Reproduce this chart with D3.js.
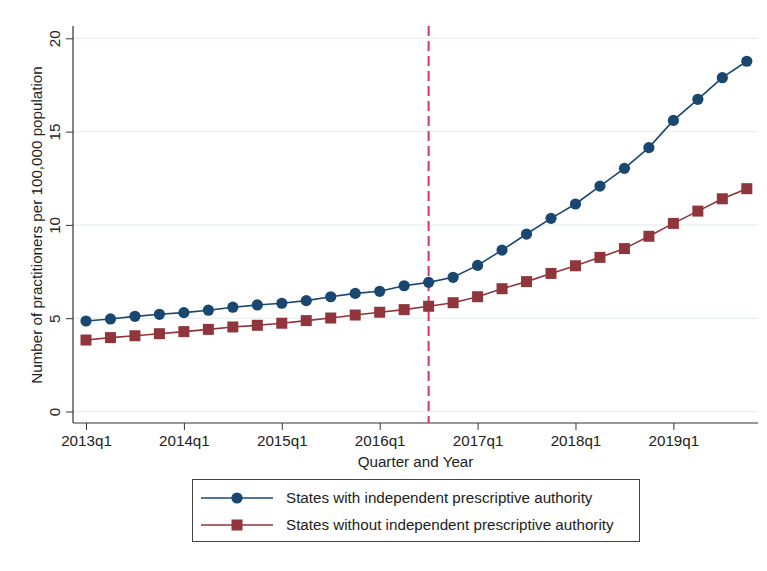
<!DOCTYPE html>
<html>
<head>
<meta charset="utf-8">
<script src="https://cdn.jsdelivr.net/npm/d3@7"></script>
<style>
  html, body { margin: 0; padding: 0; background: #fff; }
  svg { display: block; font-family: Arial, "Liberation Sans", sans-serif; }
</style>
</head>
<body>
<svg id="chart" width="767" height="571"></svg>
<script>
// Quarters 2013q1 .. 2019q4
const quarters = [
  "2013q1","2013q2","2013q3","2013q4",
  "2014q1","2014q2","2014q3","2014q4",
  "2015q1","2015q2","2015q3","2015q4",
  "2016q1","2016q2","2016q3","2016q4",
  "2017q1","2017q2","2017q3","2017q4",
  "2018q1","2018q2","2018q3","2018q4",
  "2019q1","2019q2","2019q3","2019q4"
];

// Practitioners per 100,000 population
const withAuthority = [
  4.85, 4.96, 5.10, 5.21,
  5.30, 5.43, 5.59, 5.71,
  5.80, 5.94, 6.15, 6.33,
  6.44, 6.74, 6.92, 7.19,
  7.83, 8.65, 9.51, 10.35,
  11.12, 12.08, 13.03, 14.14,
  15.60, 16.73, 17.89, 18.77
];
const withoutAuthority = [
  3.83, 3.96, 4.06, 4.17,
  4.28, 4.40, 4.53, 4.62,
  4.73, 4.87, 5.01, 5.17,
  5.32, 5.46, 5.64, 5.83,
  6.15, 6.58, 6.96, 7.40,
  7.81, 8.26, 8.73, 9.39,
  10.08, 10.74, 11.40, 11.94
];

const xTickLabels = ["2013q1","2014q1","2015q1","2016q1","2017q1","2018q1","2019q1"];
const yTicks = [0, 5, 10, 15, 20];
const policyQuarter = "2016q3";

const seriesNames = [
  "States with independent prescriptive authority",
  "States without independent prescriptive authority"
];
const seriesColors = ["#1a476f", "#90353b"];

const fontSize = "15.2px";

// Convert "YYYYqN" to a continuous quarter index
const qIndex = s => (+s.slice(0, 4) - 2013) * 4 + (+s.slice(5) - 1);

const svg = d3.select("#chart");
const plot = { left: 73, right: 758, top: 26, bottom: 423 };

const x = d3.scaleLinear()
  .domain([qIndex("2013q1"), qIndex("2019q4")])
  .range([86, 746.8]);
const y = d3.scaleLinear()
  .domain([0, 20])
  .range([411.5, 38.3]);

// Gridlines
svg.append("g")
  .selectAll("line")
  .data(yTicks)
  .join("line")
  .attr("x1", plot.left).attr("x2", plot.right)
  .attr("y1", d => y(d)).attr("y2", d => y(d))
  .attr("stroke", "#eaf2f3")
  .attr("stroke-width", 1.5);

// Y axis
const yAxis = svg.append("g")
  .attr("transform", `translate(${plot.left},0)`)
  .call(d3.axisLeft(y).tickValues(yTicks).tickSize(7).tickFormat(d3.format("d")));
yAxis.select(".domain").remove();
yAxis.append("line")
  .attr("x1", 0).attr("x2", 0)
  .attr("y1", plot.top).attr("y2", plot.bottom)
  .attr("stroke", "#333").attr("stroke-width", 1.2);
yAxis.selectAll(".tick line").attr("stroke", "#333");
yAxis.selectAll(".tick text")
  .attr("fill", "#222")
  .style("font-size", fontSize)
  .attr("x", null).attr("dy", null)
  .attr("text-anchor", "middle")
  .attr("transform", "translate(-13,0) rotate(-90)");

// X axis
const xAxis = svg.append("g")
  .attr("transform", `translate(0,${plot.bottom})`)
  .call(d3.axisBottom(x)
    .tickValues(xTickLabels.map(qIndex))
    .tickSize(7)
    .tickFormat(d => quarters[d]));
xAxis.select(".domain").remove();
xAxis.append("line")
  .attr("x1", plot.left).attr("x2", plot.right)
  .attr("y1", 0).attr("y2", 0)
  .attr("stroke", "#333").attr("stroke-width", 1.2);
xAxis.selectAll(".tick line").attr("stroke", "#333");
xAxis.selectAll(".tick text")
  .attr("fill", "#222")
  .style("font-size", fontSize)
  .attr("y", 12);

// Axis titles
svg.append("text")
  .attr("transform", `translate(42,225) rotate(-90)`)
  .attr("text-anchor", "middle")
  .attr("fill", "#222")
  .style("font-size", fontSize)
  .text("Number of practitioners per 100,000 population");

svg.append("text")
  .attr("x", (plot.left + plot.right) / 2)
  .attr("y", 467)
  .attr("text-anchor", "middle")
  .attr("fill", "#222")
  .style("font-size", fontSize)
  .text("Quarter and Year");

// Policy reference line
svg.append("line")
  .attr("x1", x(qIndex(policyQuarter))).attr("x2", x(qIndex(policyQuarter)))
  .attr("y1", plot.top).attr("y2", plot.bottom)
  .attr("stroke", "#d6336c")
  .attr("stroke-width", 2)
  .attr("stroke-dasharray", "10,5");

// Series
const series = [withAuthority, withoutAuthority];
const line = d3.line().x((d, i) => x(i)).y(d => y(d));
const sq = 11;

series.forEach((vals, si) => {
  svg.append("path")
    .datum(vals)
    .attr("d", line)
    .attr("fill", "none")
    .attr("stroke", seriesColors[si])
    .attr("stroke-width", 1.6);
  const g = svg.append("g");
  if (si === 0) {
    g.selectAll("circle").data(vals).join("circle")
      .attr("cx", (d, i) => x(i)).attr("cy", d => y(d))
      .attr("r", 5.6)
      .attr("fill", seriesColors[si]);
  } else {
    g.selectAll("rect").data(vals).join("rect")
      .attr("x", (d, i) => x(i) - sq / 2).attr("y", d => y(d) - sq / 2)
      .attr("width", sq).attr("height", sq)
      .attr("fill", seriesColors[si]);
  }
});

// Legend
const legend = svg.append("g");
legend.append("rect")
  .attr("x", 192.5).attr("y", 479.5)
  .attr("width", 447).attr("height", 62)
  .attr("fill", "#fff")
  .attr("stroke", "#444").attr("stroke-width", 1);

const rowY = [498, 525];
seriesNames.forEach((name, si) => {
  const ry = rowY[si];
  legend.append("line")
    .attr("x1", 201).attr("x2", 273)
    .attr("y1", ry).attr("y2", ry)
    .attr("stroke", seriesColors[si]).attr("stroke-width", 1.6);
  if (si === 0) {
    legend.append("circle").attr("cx", 237).attr("cy", ry).attr("r", 5.6)
      .attr("fill", seriesColors[si]);
  } else {
    legend.append("rect").attr("x", 237 - sq / 2).attr("y", ry - sq / 2)
      .attr("width", sq).attr("height", sq).attr("fill", seriesColors[si]);
  }
  legend.append("text")
    .attr("x", 286).attr("y", ry + 5)
    .attr("fill", "#222")
    .style("font-size", fontSize)
    .text(name);
});
</script>
</body>
</html>
